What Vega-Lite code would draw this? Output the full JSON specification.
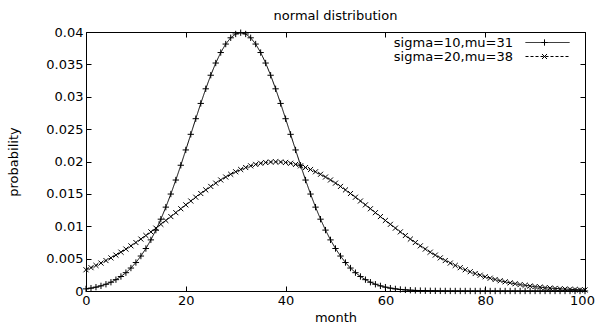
{
  "$schema": "https://vega.github.io/schema/vega-lite/v6.json",
  "width": 499,
  "height": 259,
  "autosize": {"type": "none"},
  "padding": {"left": 86, "top": 32, "right": 11, "bottom": 38},
  "background": "white",
  "config": {
    "view": {"stroke": "black", "strokeWidth": 1},
    "font": "DejaVu Sans",
    "axis": {
      "labelFont": "DejaVu Sans",
      "labelFontSize": 13,
      "labelColor": "black",
      "titleFont": "DejaVu Sans",
      "titleFontSize": 13,
      "titleFontWeight": "normal",
      "titleColor": "black",
      "tickColor": "black",
      "tickWidth": 1,
      "tickSize": -5,
      "domain": false,
      "grid": false,
      "labelFlush": false,
      "labelOverlap": false
    },
    "legend": {
      "labelFont": "DejaVu Sans",
      "labelFontSize": 13,
      "labelColor": "black"
    }
  },
  "title": {
    "text": "normal distribution",
    "font": "DejaVu Sans",
    "fontSize": 13,
    "fontWeight": "normal",
    "color": "black",
    "anchor": "middle",
    "offset": 3
  },
  "data": {
    "values": [
      {"m":0,"p":0.000327,"s":"a"},{"m":1,"p":0.000443,"s":"a"},{"m":2,"p":0.000595,"s":"a"},{"m":3,"p":0.000792,"s":"a"},{"m":4,"p":0.001042,"s":"a"},
      {"m":5,"p":0.001358,"s":"a"},{"m":6,"p":0.001753,"s":"a"},{"m":7,"p":0.002239,"s":"a"},{"m":8,"p":0.002833,"s":"a"},{"m":9,"p":0.003547,"s":"a"},
      {"m":10,"p":0.004398,"s":"a"},{"m":11,"p":0.005399,"s":"a"},{"m":12,"p":0.006562,"s":"a"},{"m":13,"p":0.007895,"s":"a"},{"m":14,"p":0.009405,"s":"a"},
      {"m":15,"p":0.011092,"s":"a"},{"m":16,"p":0.012952,"s":"a"},{"m":17,"p":0.014973,"s":"a"},{"m":18,"p":0.017137,"s":"a"},{"m":19,"p":0.019419,"s":"a"},
      {"m":20,"p":0.021785,"s":"a"},{"m":21,"p":0.024197,"s":"a"},{"m":22,"p":0.026608,"s":"a"},{"m":23,"p":0.028969,"s":"a"},{"m":24,"p":0.031225,"s":"a"},
      {"m":25,"p":0.033322,"s":"a"},{"m":26,"p":0.035207,"s":"a"},{"m":27,"p":0.036827,"s":"a"},{"m":28,"p":0.038139,"s":"a"},{"m":29,"p":0.039104,"s":"a"},
      {"m":30,"p":0.039695,"s":"a"},{"m":31,"p":0.039894,"s":"a"},{"m":32,"p":0.039695,"s":"a"},{"m":33,"p":0.039104,"s":"a"},{"m":34,"p":0.038139,"s":"a"},
      {"m":35,"p":0.036827,"s":"a"},{"m":36,"p":0.035207,"s":"a"},{"m":37,"p":0.033322,"s":"a"},{"m":38,"p":0.031225,"s":"a"},{"m":39,"p":0.028969,"s":"a"},
      {"m":40,"p":0.026608,"s":"a"},{"m":41,"p":0.024197,"s":"a"},{"m":42,"p":0.021785,"s":"a"},{"m":43,"p":0.019419,"s":"a"},{"m":44,"p":0.017137,"s":"a"},
      {"m":45,"p":0.014973,"s":"a"},{"m":46,"p":0.012952,"s":"a"},{"m":47,"p":0.011092,"s":"a"},{"m":48,"p":0.009405,"s":"a"},{"m":49,"p":0.007895,"s":"a"},
      {"m":50,"p":0.006562,"s":"a"},{"m":51,"p":0.005399,"s":"a"},{"m":52,"p":0.004398,"s":"a"},{"m":53,"p":0.003547,"s":"a"},{"m":54,"p":0.002833,"s":"a"},
      {"m":55,"p":0.002239,"s":"a"},{"m":56,"p":0.001753,"s":"a"},{"m":57,"p":0.001358,"s":"a"},{"m":58,"p":0.001042,"s":"a"},{"m":59,"p":0.000792,"s":"a"},
      {"m":60,"p":0.000595,"s":"a"},{"m":61,"p":0.000443,"s":"a"},{"m":62,"p":0.000327,"s":"a"},{"m":63,"p":0.000238,"s":"a"},{"m":64,"p":0.000172,"s":"a"},
      {"m":65,"p":0.000123,"s":"a"},{"m":66,"p":0.0000873,"s":"a"},{"m":67,"p":0.0000612,"s":"a"},{"m":68,"p":0.0000425,"s":"a"},{"m":69,"p":0.0000292,"s":"a"},
      {"m":70,"p":0.0000199,"s":"a"},{"m":71,"p":0.0000134,"s":"a"},{"m":72,"p":0.0000089,"s":"a"},{"m":73,"p":0.0000059,"s":"a"},{"m":74,"p":0.0000039,"s":"a"},
      {"m":75,"p":0.0000025,"s":"a"},{"m":76,"p":0.0000016,"s":"a"},{"m":77,"p":0.000001,"s":"a"},{"m":78,"p":0.0000006,"s":"a"},{"m":79,"p":0.0000004,"s":"a"},
      {"m":80,"p":0.0000002,"s":"a"},{"m":81,"p":0.0000001,"s":"a"},{"m":82,"p":0,"s":"a"},{"m":83,"p":0,"s":"a"},{"m":84,"p":0,"s":"a"},
      {"m":85,"p":0,"s":"a"},{"m":86,"p":0,"s":"a"},{"m":87,"p":0,"s":"a"},{"m":88,"p":0,"s":"a"},{"m":89,"p":0,"s":"a"},
      {"m":90,"p":0,"s":"a"},{"m":91,"p":0,"s":"a"},{"m":92,"p":0,"s":"a"},{"m":93,"p":0,"s":"a"},{"m":94,"p":0,"s":"a"},
      {"m":95,"p":0,"s":"a"},{"m":96,"p":0,"s":"a"},{"m":97,"p":0,"s":"a"},{"m":98,"p":0,"s":"a"},{"m":99,"p":0,"s":"a"},
      {"m":100,"p":0,"s":"a"},
      {"m":0,"p":0.003281,"s":"b"},{"m":1,"p":0.003603,"s":"b"},{"m":2,"p":0.003948,"s":"b"},{"m":3,"p":0.004314,"s":"b"},{"m":4,"p":0.004702,"s":"b"},
      {"m":5,"p":0.005113,"s":"b"},{"m":6,"p":0.005546,"s":"b"},{"m":7,"p":0.006000,"s":"b"},{"m":8,"p":0.006476,"s":"b"},{"m":9,"p":0.006972,"s":"b"},
      {"m":10,"p":0.007486,"s":"b"},{"m":11,"p":0.008019,"s":"b"},{"m":12,"p":0.008569,"s":"b"},{"m":13,"p":0.009132,"s":"b"},{"m":14,"p":0.009709,"s":"b"},
      {"m":15,"p":0.010297,"s":"b"},{"m":16,"p":0.010893,"s":"b"},{"m":17,"p":0.011494,"s":"b"},{"m":18,"p":0.012099,"s":"b"},{"m":19,"p":0.012703,"s":"b"},
      {"m":20,"p":0.013304,"s":"b"},{"m":21,"p":0.013899,"s":"b"},{"m":22,"p":0.014485,"s":"b"},{"m":23,"p":0.015057,"s":"b"},{"m":24,"p":0.015613,"s":"b"},
      {"m":25,"p":0.016149,"s":"b"},{"m":26,"p":0.016661,"s":"b"},{"m":27,"p":0.017147,"s":"b"},{"m":28,"p":0.017603,"s":"b"},{"m":29,"p":0.018026,"s":"b"},
      {"m":30,"p":0.018413,"s":"b"},{"m":31,"p":0.018762,"s":"b"},{"m":32,"p":0.019069,"s":"b"},{"m":33,"p":0.019333,"s":"b"},{"m":34,"p":0.019552,"s":"b"},
      {"m":35,"p":0.019724,"s":"b"},{"m":36,"p":0.019848,"s":"b"},{"m":37,"p":0.019922,"s":"b"},{"m":38,"p":0.019947,"s":"b"},{"m":39,"p":0.019922,"s":"b"},
      {"m":40,"p":0.019848,"s":"b"},{"m":41,"p":0.019724,"s":"b"},{"m":42,"p":0.019552,"s":"b"},{"m":43,"p":0.019333,"s":"b"},{"m":44,"p":0.019069,"s":"b"},
      {"m":45,"p":0.018762,"s":"b"},{"m":46,"p":0.018413,"s":"b"},{"m":47,"p":0.018026,"s":"b"},{"m":48,"p":0.017603,"s":"b"},{"m":49,"p":0.017147,"s":"b"},
      {"m":50,"p":0.016661,"s":"b"},{"m":51,"p":0.016149,"s":"b"},{"m":52,"p":0.015613,"s":"b"},{"m":53,"p":0.015057,"s":"b"},{"m":54,"p":0.014485,"s":"b"},
      {"m":55,"p":0.013899,"s":"b"},{"m":56,"p":0.013304,"s":"b"},{"m":57,"p":0.012703,"s":"b"},{"m":58,"p":0.012099,"s":"b"},{"m":59,"p":0.011494,"s":"b"},
      {"m":60,"p":0.010893,"s":"b"},{"m":61,"p":0.010297,"s":"b"},{"m":62,"p":0.009709,"s":"b"},{"m":63,"p":0.009132,"s":"b"},{"m":64,"p":0.008569,"s":"b"},
      {"m":65,"p":0.008019,"s":"b"},{"m":66,"p":0.007486,"s":"b"},{"m":67,"p":0.006972,"s":"b"},{"m":68,"p":0.006476,"s":"b"},{"m":69,"p":0.006000,"s":"b"},
      {"m":70,"p":0.005546,"s":"b"},{"m":71,"p":0.005113,"s":"b"},{"m":72,"p":0.004702,"s":"b"},{"m":73,"p":0.004314,"s":"b"},{"m":74,"p":0.003948,"s":"b"},
      {"m":75,"p":0.003603,"s":"b"},{"m":76,"p":0.003281,"s":"b"},{"m":77,"p":0.002980,"s":"b"},{"m":78,"p":0.002700,"s":"b"},{"m":79,"p":0.002440,"s":"b"},
      {"m":80,"p":0.002199,"s":"b"},{"m":81,"p":0.001977,"s":"b"},{"m":82,"p":0.001774,"s":"b"},{"m":83,"p":0.001587,"s":"b"},{"m":84,"p":0.001416,"s":"b"},
      {"m":85,"p":0.001261,"s":"b"},{"m":86,"p":0.001120,"s":"b"},{"m":87,"p":0.000992,"s":"b"},{"m":88,"p":0.000876,"s":"b"},{"m":89,"p":0.000773,"s":"b"},
      {"m":90,"p":0.000679,"s":"b"},{"m":91,"p":0.000596,"s":"b"},{"m":92,"p":0.000521,"s":"b"},{"m":93,"p":0.000455,"s":"b"},{"m":94,"p":0.000396,"s":"b"},
      {"m":95,"p":0.000344,"s":"b"},{"m":96,"p":0.000298,"s":"b"},{"m":97,"p":0.000257,"s":"b"},{"m":98,"p":0.000222,"s":"b"},{"m":99,"p":0.000191,"s":"b"},
      {"m":100,"p":0.000163,"s":"b"}
    ]
  },
  "layer": [
    {
      "mark": {"type": "line", "color": "black", "strokeWidth": 1},
      "encoding": {
        "x": {"field": "m", "type": "quantitative", "scale": {"domain": [0, 100], "nice": false, "zero": false},
              "axis": {"orient": "bottom", "values": [0, 20, 40, 60, 80, 100], "labelPadding": 8, "title": "month", "titlePadding": 4,
                       "labelOffset": {"condition": {"test": "datum.value == 100", "value": -3}, "value": 0}}},
        "y": {"field": "p", "type": "quantitative", "scale": {"domain": [0, 0.04], "nice": false},
              "axis": {"orient": "left", "values": [0, 0.005, 0.01, 0.015, 0.02, 0.025, 0.03, 0.035, 0.04], "format": "~g", "labelPadding": 8, "title": "probability", "titlePadding": 25}},
        "detail": {"field": "s", "type": "nominal"},
        "strokeDash": {
          "field": "s", "type": "nominal",
          "scale": {"domain": ["a", "b"], "range": [[1, 0], [3, 2]]},
          "legend": {
            "orient": "none",
            "legendX": 455,
            "legendY": 4,
            "title": null,
            "labelExpr": "datum.value == 'a' ? 'sigma=10,mu=31' : 'sigma=20,mu=38'",
            "labelAlign": "right",
            "labelOffset": -41,
            "rowPadding": 0,
            "symbolType": "M-22,0L22,0",
            "symbolSize": 4,
            "symbolStrokeColor": "black",
            "symbolStrokeWidth": 1
          }
        }
      }
    },
    {
      "mark": {"type": "point", "filled": false, "stroke": "black", "strokeWidth": 1, "size": 40, "opacity": 1},
      "encoding": {
        "x": {"field": "m", "type": "quantitative",
              "axis": {"orient": "top", "values": [0, 20, 40, 60, 80, 100], "labels": false, "title": null}},
        "y": {"field": "p", "type": "quantitative",
              "axis": {"orient": "right", "values": [0, 0.005, 0.01, 0.015, 0.02, 0.025, 0.03, 0.035, 0.04], "labels": false, "title": null}},
        "shape": {
          "field": "s", "type": "nominal",
          "scale": {"domain": ["a", "b"], "range": ["M-1,0L1,0M0,-1L0,1", "M-0.8,-0.8L0.8,0.8M-0.8,0.8L0.8,-0.8"]},
          "legend": {
            "orient": "none",
            "legendX": 452,
            "legendY": 4,
            "title": null,
            "labelColor": "transparent",
            "rowPadding": -6,
            "symbolSize": 40,
            "symbolStrokeColor": "black",
            "symbolStrokeWidth": 1
          }
        }
      }
    }
  ],
  "resolve": {
    "axis": {"x": "independent", "y": "independent"},
    "legend": {"shape": "independent", "strokeDash": "independent"}
  }
}
